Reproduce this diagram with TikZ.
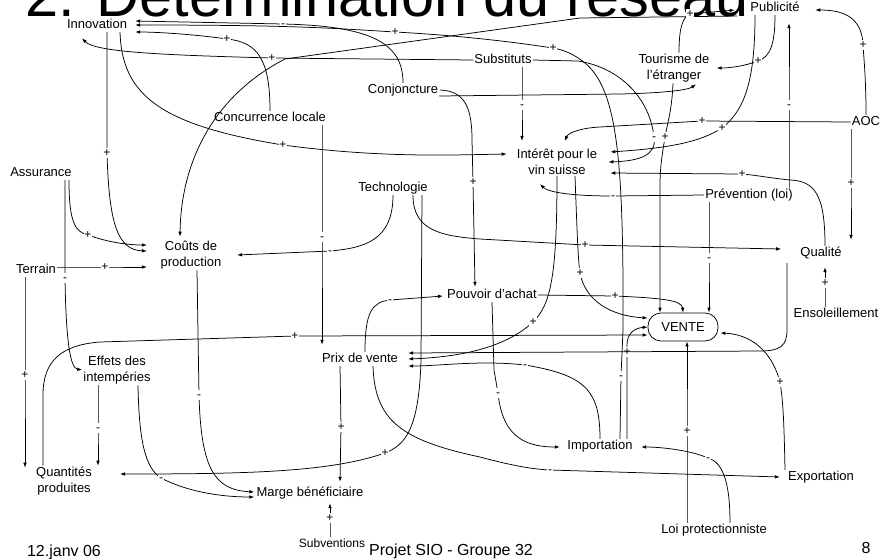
\documentclass[tikz,border=0pt]{standalone}
\usepackage{fontspec}
\setmainfont{Liberation Sans}
\usetikzlibrary{arrows.meta}
\begin{document}
\begin{tikzpicture}[x=1pt,y=-1pt,
  txt/.style={inner sep=1pt,text height=9.5pt,text depth=2.5pt,font=\fontsize{13}{16}\selectfont,fill=white},
  txtm/.style={inner sep=1pt,align=center,font=\fontsize{13}{16}\selectfont,fill=white},
  lbl/.style={inner sep=0.6pt,text height=8pt,text depth=1pt,font=\fontsize{12}{12}\selectfont,fill=white},
  con/.style={line width=0.75pt,-{Latex[length=5pt,width=3.6pt]}},
  foot/.style={inner sep=0pt,font=\fontsize{16}{18}\selectfont}]
\useasboundingbox (0,0) rectangle (881,558);
\fill[white] (0,0) rectangle (881,558);
\clip (0,0) rectangle (881,558);
\node[anchor=base west,inner sep=0pt,font=\fontsize{59.5}{60}\selectfont] (title) at (25,16) {2. Détermination du réseau};
% nodes
\node[txt] (inno) at (97,25) {Innovation};
\node[txt] (pub) at (775,8) {Publicité};
\node[txt] (subst) at (503,60) {Substituts};
\node[txtm] (tour) at (674,68) {Tourisme de\\l’étranger};
\node[txt] (conj) at (403,90) {Conjoncture};
\node[txt] (concl) at (270,118) {Concurrence locale};
\node[txt] (aoc) at (866,122) {AOC};
\node[txtm] (inter) at (557,162) {Intérêt pour le\\vin suisse};
\node[txt] (assur) at (41,173) {Assurance};
\node[txt] (techno) at (393,188) {Technologie};
\node[txt] (prev) at (749,195) {Prévention (loi)};
\node[txtm] (couts) at (191,255) {Coûts de\\production};
\node[txt] (terrain) at (36,270) {Terrain};
\node[txt] (qual) at (821,253) {Qualité};
\node[txt] (pouv) at (492,295) {Pouvoir d’achat};
\node[txt] (ens) at (836,314) {Ensoleillement};
\node[draw,line width=0.75pt,rounded corners=13pt,minimum width=70pt,minimum height=28pt,inner sep=1pt,font=\fontsize{13}{16}\selectfont,fill=white] (vente) at (683,327) {VENTE};
\node[txt] (prix) at (360,359) {Prix de vente};
\node[txtm] (effets) at (117,370) {Effets des\\intempéries};
\node[txtm] (quant) at (64,481) {Quantités\\produites};
\node[txt] (marge) at (310,493) {Marge bénéficiaire};
\node[txt] (imp) at (600,446) {Importation};
\node[txt] (export) at (821,477) {Exportation};
\node[txt] (loi) at (714,530) {Loi protectionniste};
\node[txt,font=\fontsize{12}{14}\selectfont] (subv) at (332,544) {Subventions};
\node[foot] (date) at (64,552) {12.janv 06};
\node[foot] (projet) at (451,551) {Projet SIO - Groupe 32};
\node[foot] (page) at (866,548) {8};
% connectors
\draw[con] (conj.north) .. controls (403,45) and (375,26) .. (283,24) node[lbl]{-} -- ([shift={(7,-4)}]inno.east);
\draw[con] ([shift={(20,0)}]imp.north) -- (621,376) node[lbl]{-} -- (623,330) -- (623,280) .. controls (622,150) and (615,88) .. (585,63) .. controls (575,55) and (565,50) .. (553,48) node[lbl]{+} .. controls (500,40) and (450,35) .. (395,32) node[lbl]{+} .. controls (330,28) and (290,25) .. ([shift={(7,0)}]inno.east);
\draw[con] ([shift={(27,0)}]imp.north) -- (627,352) node[lbl]{+} -- (627,345) .. controls (627,333) and (635,328) .. (vente.west);
\draw[con] (imp.north) .. controls (600,390) and (585,375) .. (525,365) node[lbl]{-} .. controls (480,360) and (440,366) .. ([shift={(9,7)}]prix.east);
\draw[con] (concl.north) .. controls (270,60) and (258,42) .. (227,39) node[lbl]{+} .. controls (200,35) and (160,32) .. ([shift={(7,7)}]inno.east);
\draw[con] (subst.west) -- (272,58) node[lbl]{+} .. controls (160,55) and (95,52) .. ([shift={(-15,6)}]inno.south);
\draw[con] ([shift={(-12,8)}]pub.west) -- (580,18) -- (285,59) .. controls (215,95) and (181,160) .. ([shift={(-11,-3)}]couts.north);
\draw[con] ([shift={(23,0)}]inno.south) .. controls (122,95) and (160,125) .. (283,145) node[lbl]{+} .. controls (380,158) and (450,155) .. ([shift={(-9,-8)}]inter.west);
\draw[con] ([shift={(10,0)}]inno.south) -- (107,153) node[lbl]{+} .. controls (109,225) and (118,250) .. ([shift={(-12.5,-4)}]couts.west);
\draw[con] ([shift={(28,0)}]assur.south) .. controls (69,222) and (75,232) .. (88,235) node[lbl]{+} .. controls (110,243) and (130,245) .. ([shift={(-12.5,-10)}]couts.west);
\draw[con] ([shift={(24,0)}]assur.south) -- (65,278) node[lbl]{-} .. controls (66,340) and (70,368) .. (effets.west);
\draw[con] ([shift={(0,-3)}]terrain.east) -- (105,267) node[lbl]{+} -- ([shift={(-12.5,12)}]couts.west);
\draw[con] ([shift={(-11,0)}]terrain.south) -- (25,375) node[lbl]{+} -- ([shift={(-39,2)}]quant.north);
\draw[con] ([shift={(-21,0)}]quant.north) -- (43,395) .. controls (43,362) and (60,345) .. (100,342) -- (295,336) node[lbl]{+} -- ([shift={(0,8)}]vente.west);
\draw[con] ([shift={(-19,0)}]effets.south) -- (98,428) node[lbl]{-} -- ([shift={(34,0)}]quant.north);
\draw[con] ([shift={(21,0)}]effets.south) .. controls (139,440) and (145,468) .. (161,478) node[lbl]{-} .. controls (190,493) and (225,497) .. ([shift={(-1,4)}]marge.west);
\draw[con] ([shift={(6,0)}]couts.south) -- (199,395) node[lbl]{-} .. controls (201,470) and (215,490) .. ([shift={(-1,-1)}]marge.west);
\draw[con] ([shift={(29,0)}]techno.south) -- (421,360) .. controls (419,430) and (405,445) .. (385,453) node[lbl]{+} .. controls (330,472) and (250,474) .. ([shift={(27,-7)}]quant.east);
\draw[con] (techno.south) .. controls (393,240) and (365,248) .. (330,251) node[lbl]{-} -- ([shift={(14.5,0)}]couts.east);
\draw[con] ([shift={(20,0)}]techno.south) .. controls (413,230) and (440,236) .. (480,239) -- (585,245) node[lbl]{+} -- ([shift={(-18,-4)}]qual.west);
\draw[con] ([shift={(52,0)}]concl.south) -- (322,237) node[lbl]{-} -- ([shift={(-38,-7)}]prix.north);
\draw[con] ([shift={(1,0)}]conj.east) .. controls (465,91) and (472,108) .. (472,140) -- (473,182) node[lbl]{+} -- ([shift={(-17,-1)}]pouv.north);
\draw[con] ([shift={(0,6)}]conj.east) -- (620,94) .. controls (665,93) and (688,90) .. ([shift={(22,1)}]tour.south);
\draw[con] (pouv.east) -- (615,296) node[lbl]{+} .. controls (660,298) and (682,300) .. (vente.north);
\draw[con] (pouv.south) -- (494,370) -- (498,393) node[lbl]{-} .. controls (502,432) and (520,447) .. ([shift={(-6.5,1)}]imp.west);
\draw[con] ([shift={(5,0)}]prix.north) .. controls (365,312) and (372,302) .. (390,300) node[lbl]{-} -- ([shift={(-3,1)}]pouv.west);
\draw[con] ([shift={(13,0)}]prix.south) .. controls (375,420) and (400,440) .. (480,457) .. controls (510,465) and (530,469) .. (550,470) node[lbl]{-} -- ([shift={(-7,0)}]export.west);
\draw[con] ([shift={(-20,0)}]prix.south) -- (341,427) node[lbl]{+} -- ([shift={(30,-4)}]marge.north);
\draw[con] ([shift={(-2,0)}]subv.north) -- (330,518) node[lbl]{+} -- ([shift={(20,3)}]marge.south);
\draw[con] (inter.south) .. controls (557,280) and (550,305) .. (533,322) node[lbl]{+} .. controls (505,348) and (460,357) .. ([shift={(9,0)}]prix.east);
\draw[con] ([shift={(18,0)}]inter.south) .. controls (577,230) and (578,260) .. (580,273) node[lbl]{+} .. controls (585,300) and (610,316) .. ([shift={(0,-9)}]vente.west);
\draw[con] (prev.west) -- (613,196) node[lbl]{-} .. controls (570,196) and (548,192) .. ([shift={(-17,8)}]inter.south);
\draw[con] ([shift={(-40,0)}]prev.south) -- (709,258) node[lbl]{-} -- ([shift={(26,0)}]vente.north);
\draw[con] ([shift={(40,0)}]prev.north) -- (789,105) node[lbl]{-} -- ([shift={(14,8)}]pub.south);
\draw[con] (aoc.west) -- (702,121) node[lbl]{+} -- (600,127) .. controls (580,128) and (568,133) .. ([shift={(8,-7)}]inter.north);
\draw[con] (aoc.north) .. controls (866,80) and (864,60) .. (863,45) node[lbl]{+} .. controls (862,15) and (840,10) .. ([shift={(14.5,2)}]pub.east);
\draw[con] ([shift={(-15,0)}]aoc.south) -- (851,183) node[lbl]{+} -- ([shift={(30,-6)}]qual.north);
\draw[con] ([shift={(-11,0)}]ens.north) -- (825,283) node[lbl]{+} -- ([shift={(4,7)}]qual.south);
\draw[con] ([shift={(4,0)}]qual.north) .. controls (825,195) and (815,181) .. (790,180) .. controls (770,178) and (755,175) .. (742,174) node[lbl]{+} -- ([shift={(12,11)}]inter.east);
\draw[con] ([shift={(-34,3)}]qual.south) -- (787,330) .. controls (787,346) and (780,351) .. (760,351) -- ([shift={(9,-6)}]prix.east);
\draw[con] (pub.south) .. controls (775,45) and (770,57) .. (758,61) node[lbl]{+} .. controls (745,66) and (730,68) .. ([shift={(6,0)}]tour.east);
\draw[con] ([shift={(-20,0)}]pub.south) .. controls (755,80) and (745,110) .. (722,128) node[lbl]{+} .. controls (700,142) and (670,148) .. ([shift={(12,-10)}]inter.east);
\draw[con] ([shift={(5,0)}]tour.north) .. controls (679,30) and (682,17) .. (690,14) node[lbl]{+} -- ([shift={(-14.5,2)}]pub.west);
\draw[con] ([shift={(-1,0)}]tour.south) .. controls (672,110) and (667,125) .. (665,137) node[lbl]{+} .. controls (663,150) and (660,165) .. (660,185) -- ([shift={(-23,0)}]vente.north);
\draw[con] (subst.east) -- (578,61) .. controls (622,68) and (650,100) .. (654,137) node[lbl]{-} .. controls (657,155) and (640,161) .. ([shift={(10,0)}]inter.east);
\draw[con] ([shift={(19,0)}]subst.south) -- (522,105) node[lbl]{-} -- ([shift={(-35,-7)}]inter.north);
\draw[con] ([shift={(-27,0)}]loi.north) -- (687,431) node[lbl]{+} -- ([shift={(4,0)}]vente.south);
\draw[con] ([shift={(16,0)}]loi.north) .. controls (730,480) and (722,462) .. (708,458) node[lbl]{-} .. controls (690,450) and (660,447) .. ([shift={(7.5,1)}]imp.east);
\draw[con] ([shift={(-36,0)}]export.north) .. controls (784,420) and (783,400) .. (780,382) node[lbl]{+} .. controls (770,345) and (745,334) .. ([shift={(2,6)}]vente.east);
\end{tikzpicture}
\end{document}
